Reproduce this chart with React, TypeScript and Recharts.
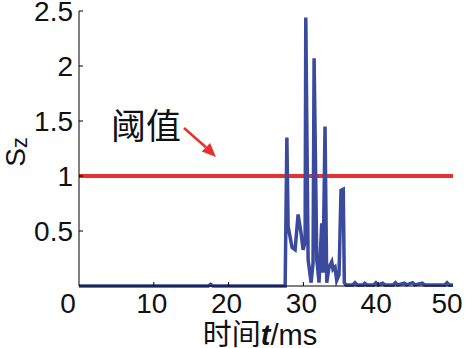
import React from "react";
import { LineChart, Line, XAxis, YAxis, ReferenceLine } from "recharts";

const timeMs = [
  0, 5, 10, 15, 17.3, 17.6, 17.9, 22, 27.4, 27.56, 27.79, 27.96, 28.49, 28.89,
  29.29, 29.69, 29.96, 30.23, 30.32, 30.63, 31.03, 31.29, 31.43, 31.79, 32.09,
  32.45, 32.63, 32.89, 33.12, 33.43, 33.79, 33.96, 34.23, 34.45, 34.76, 35.03,
  35.33, 35.47, 35.69, 36.6, 36.9, 37.2, 38.0, 38.2, 38.5, 39.4, 39.7, 40.0,
  40.6, 40.9, 42.0, 42.3, 42.6, 43.5, 43.8, 44.6, 44.9, 45.9, 46.2, 47.5, 48.9,
  49.2, 49.5, 50,
];
const szValues = [
  0, 0, 0, 0, 0, 0.015, 0, 0, 0, 0, 1.35, 0.54, 0.35, 0.33,
  0.65, 0.48, 0.33, 0.4, 2.44, 0.24, 0.03, 0.21, 2.07, 0.24, 0.03,
  0.57, 0.12, 1.45, 0.03, 0.17, 0.22, 0.15, 0.17, 0.05, 0.1, 0.87,
  0.88, 0.03, 0.01, 0.01, 0.03, 0.01, 0.01, 0.025, 0.01, 0.01, 0.03, 0.01,
  0.025, 0.01, 0.01, 0.03, 0.01, 0.025, 0.01, 0.03, 0.01, 0.025, 0.01, 0.01, 0.01,
  0.03, 0.01, 0.01,
];
const threshold = 1;
const xTicks = [0, 10, 20, 30, 40, 50];
const yTicks = [0.5, 1, 1.5, 2, 2.5];

const data = timeMs.map((t, i) => ({ t, sz: szValues[i] }));

const FONT = "'Liberation Sans', Arial, sans-serif";
const CJK = "'Noto Sans CJK SC', 'Liberation Sans', sans-serif";

const XTick = (props: any) => {
  const { x, y, payload } = props;
  const v = payload.value;
  const shift = v === 0 ? -11 : v === 50 ? -6 : -2;
  return (
    <g>
      {v !== 0 && v !== 50 && (
        <line x1={x} y1={y} x2={x} y2={y - 4} stroke="#000" strokeWidth={1} />
      )}
      <text x={x + shift} y={y + 27} textAnchor="middle" fontFamily={FONT} fontSize={28} fill="#111">
        {v}
      </text>
    </g>
  );
};

const YTick = (props: any) => {
  const { x, y, payload } = props;
  return (
    <g>
      <line x1={x} y1={y} x2={x + 4} y2={y} stroke="#000" strokeWidth={1} />
      <text x={x - 6} y={y + 10} textAnchor="end" fontFamily={FONT} fontSize={28} fill="#111">
        {payload.value}
      </text>
    </g>
  );
};

export default function App() {
  const dx = 0.719, dy = 0.695;
  const tip = { x: 216, y: 157 };
  const base = { x: tip.x - 14 * dx, y: tip.y - 14 * dy };
  const hw = 6;
  const p1 = { x: base.x - dy * hw, y: base.y + dx * hw };
  const p2 = { x: base.x + dy * hw, y: base.y - dx * hw };
  return (
    <div style={{ position: "absolute", left: 0, top: 0, width: 467, height: 348, background: "#fff" }}>
      <LineChart width={467} height={348} data={data} margin={{ top: 11, right: 14, left: 0, bottom: 0 }}>
        <XAxis
          dataKey="t"
          type="number"
          domain={[0, 50]}
          ticks={xTicks}
          height={62}
          tickSize={0}
          tickMargin={0}
          tickLine={false}
          axisLine={{ stroke: "#000", strokeWidth: 1 }}
          tick={<XTick />}
          interval={0}
        />
        <XAxis
          xAxisId="top"
          orientation="top"
          type="number"
          domain={[0, 50]}
          height={0}
          tick={false}
          tickLine={false}
          axisLine={{ stroke: "#999", strokeWidth: 1 }}
        />
        <YAxis
          type="number"
          domain={[0, 2.5]}
          ticks={yTicks}
          width={79}
          tickSize={0}
          tickMargin={0}
          tickLine={false}
          axisLine={{ stroke: "#000", strokeWidth: 1 }}
          tick={<YTick />}
          interval={0}
        />
        <YAxis
          yAxisId="right"
          orientation="right"
          type="number"
          domain={[0, 2.5]}
          width={0}
          tick={false}
          tickLine={false}
          axisLine={{ stroke: "#555", strokeWidth: 1 }}
        />
        <ReferenceLine y={threshold} stroke="#e8312f" strokeWidth={4} />
        <Line
          type="linear"
          dataKey="sz"
          stroke="#3a4a9c"
          strokeWidth={3.5}
          dot={false}
          isAnimationActive={false}
        />
      </LineChart>
      <svg width={467} height={348} style={{ position: "absolute", left: 0, top: 0, pointerEvents: "none" }}>
        <text transform="rotate(-90, 25, 152)" x={25} y={152} textAnchor="middle" fontFamily={FONT} fontSize={28} fill="#111">
          S<tspan fontSize={22} dy={2}>z</tspan>
        </text>
        <text x={111} y={139} fontFamily={CJK} fontSize={35} fill="#111">阈值</text>
        <line x1={184} y1={128} x2={base.x} y2={base.y} stroke="#e8312f" strokeWidth={2.5} />
        <polygon points={`${tip.x},${tip.y} ${p1.x},${p1.y} ${p2.x},${p2.y}`} fill="#e8312f" />
        <text x={260} y={345} textAnchor="middle" fontFamily={FONT} fontSize={29} fill="#111">
          <tspan fontFamily={CJK}>时间</tspan>
          <tspan fontStyle="italic" fontWeight="bold">t</tspan>
          <tspan>/ms</tspan>
        </text>
      </svg>
    </div>
  );
}
